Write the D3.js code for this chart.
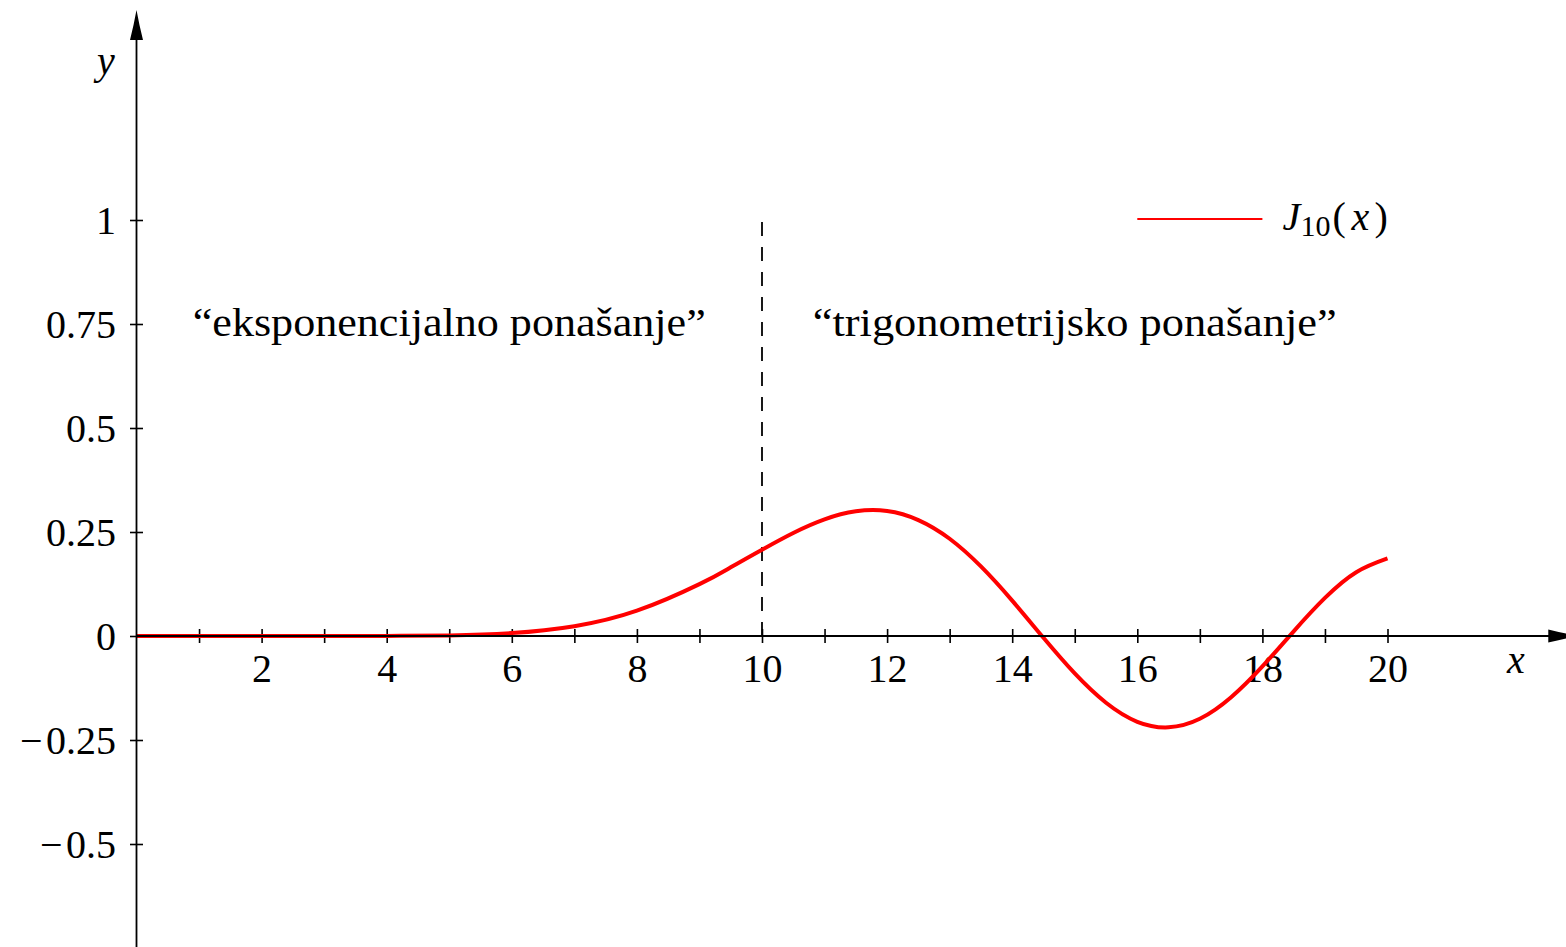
<!DOCTYPE html>
<html>
<head>
<meta charset="utf-8">
<script src="https://cdn.jsdelivr.net/npm/d3@7"></script>
<style>
  html, body { margin: 0; padding: 0; background: #fff; }
  svg { display: block; }
  text { font-family: "Liberation Serif", "Times New Roman", serif; fill: #000; }
</style>
</head>
<body>
<svg id="chart" width="1566" height="947"></svg>
<script>
// Bessel function of the first kind, order 10, sampled on [0, 20]
const xValues = [0, 1, 2, 3, 4, 5, 6, 7, 8, 9, 9.5, 10, 10.5, 11, 11.5, 12, 12.5, 13, 13.5, 14, 14.5,
                 15, 15.5, 16, 16.5, 17, 17.5, 18, 18.5, 19, 19.5, 20];
const besselJ10 = [0, 2.6e-10, 2.5e-7, 1.29e-5, 0.000195, 0.001468, 0.006964, 0.023539, 0.060767,
                   0.124686, 0.16509, 0.207486, 0.24773, 0.280377, 0.29967, 0.300476, 0.27873,
                   0.233782, 0.16717, 0.085006, -0.00441, -0.090072, -0.16056, -0.206203, -0.21952,
                   -0.199114, -0.14728, -0.073169, 0.01127, 0.091520, 0.15334, 0.186483];

// Axis ticks and labels
const xTickValues = [1, 2, 3, 4, 5, 6, 7, 8, 9, 10, 11, 12, 13, 14, 15, 16, 17, 18, 19, 20];
const xLabelValues = [2, 4, 6, 8, 10, 12, 14, 16, 18, 20];
const yTickValues = [-0.5, -0.25, 0, 0.25, 0.5, 0.75, 1];

// Region annotations and the boundary between them
const regionLabels = ["“eksponencijalno ponašanje”", "“trigonometrijsko ponašanje”"];
const regionCenters = [5, 15];
const regionLabelY = 0.75;
const boundaryX = 10;
const boundaryTop = 1;

// Legend
const legendName = "J";
const legendSub = "10";
const legendRange = [16, 18];
const legendY = 1;

// Axis extents (in data units)
const xAxisMax = 23.05;
const yAxisMin = -0.75;
const yAxisMax = 1.5048;

const svg = d3.select("#chart");

const x = d3.scaleLinear().domain([0, 20]).range([136.5, 1387.5]);
const y = d3.scaleLinear().domain([-0.5, 1]).range([844, 220]);

const FS = 40;

// x axis: ticks crossing the axis, labels on even values
const xAxisG = svg.append("g")
  .attr("transform", `translate(0,${y(0)})`)
  .call(d3.axisBottom(x)
    .tickValues(xTickValues)
    .tickSize(7)
    .tickFormat(d => xLabelValues.includes(d) ? String(d) : ""));
xAxisG.attr("font-family", null).attr("font-size", null);
xAxisG.select(".domain").remove();
xAxisG.selectAll(".tick line")
  .attr("y1", -7).attr("y2", 7)
  .attr("stroke", "#000").attr("stroke-width", 1.6);
xAxisG.selectAll(".tick text")
  .attr("y", 46).attr("dy", null)
  .attr("font-size", FS)
  .attr("fill", "#000");

// y axis
const yFmt = d => d < 0 ? "\u2212\u200A" + String(-d) : String(d);
const yAxisG = svg.append("g")
  .attr("transform", `translate(${x(0)},0)`)
  .call(d3.axisLeft(y)
    .tickValues(yTickValues)
    .tickSize(6.5)
    .tickFormat(yFmt));
yAxisG.attr("font-family", null).attr("font-size", null);
yAxisG.select(".domain").remove();
yAxisG.selectAll(".tick line")
  .attr("x1", -6.5).attr("x2", 6.5)
  .attr("stroke", "#000").attr("stroke-width", 1.6);
yAxisG.selectAll(".tick text")
  .attr("x", -20.5).attr("dy", null).attr("y", 13.5)
  .attr("font-size", FS)
  .attr("fill", "#000");

// Dashed boundary line at x = 10 (drawn bottom to top)
svg.append("line")
  .attr("x1", x(boundaryX)).attr("x2", x(boundaryX))
  .attr("y1", y(0)).attr("y2", y(boundaryTop))
  .attr("stroke", "#000")
  .attr("stroke-width", 1.8)
  .attr("stroke-dasharray", "14,11");

// Region labels
svg.selectAll("text.region")
  .data(regionLabels)
  .join("text")
  .attr("class", "region")
  .attr("x", (d, i) => x(regionCenters[i]))
  .attr("y", y(regionLabelY) + 12)
  .attr("text-anchor", "middle")
  .attr("font-size", FS)
  .attr("textLength", (d, i) => i === 0 ? 513 : 524)
  .attr("lengthAdjust", "spacingAndGlyphs")
  .text(d => d);

// The curve
const pts = xValues.map((v, i) => [v, besselJ10[i]]);
svg.append("path")
  .datum(pts)
  .attr("fill", "none")
  .attr("stroke", "#ff0000")
  .attr("stroke-width", 4)
  .attr("stroke-linejoin", "round")
  .attr("d", d3.line().x(d => x(d[0])).y(d => y(d[1])).curve(d3.curveNatural));

// Axis lines with arrow heads
const arrowPath = "M0,0 Q-14,-2.5 -30,-6.5 L-30,6.5 Q-14,2.5 0,0 Z";
svg.append("line")
  .attr("x1", x(0)).attr("x2", x(xAxisMax) - 28)
  .attr("y1", y(0)).attr("y2", y(0))
  .attr("stroke", "#000").attr("stroke-width", 1.8);
svg.append("path")
  .attr("d", arrowPath)
  .attr("fill", "#000")
  .attr("transform", `translate(${x(xAxisMax)},${y(0)})`);
svg.append("line")
  .attr("x1", x(0)).attr("x2", x(0))
  .attr("y1", y(yAxisMin)).attr("y2", y(yAxisMax) + 28)
  .attr("stroke", "#000").attr("stroke-width", 1.8);
svg.append("path")
  .attr("d", arrowPath)
  .attr("fill", "#000")
  .attr("transform", `translate(${x(0)},${y(yAxisMax)}) rotate(-90)`);

// Axis names
svg.append("text")
  .attr("x", 1516).attr("y", 673)
  .attr("text-anchor", "middle")
  .attr("font-size", FS)
  .attr("font-style", "italic")
  .text("x");
svg.append("text")
  .attr("x", 106).attr("y", 74)
  .attr("text-anchor", "middle")
  .attr("font-size", FS)
  .attr("font-style", "italic")
  .text("y");

// Legend
svg.append("line")
  .attr("x1", x(legendRange[0])).attr("x2", x(legendRange[1]))
  .attr("y1", y(legendY) - 1).attr("y2", y(legendY) - 1)
  .attr("stroke", "#ff0000").attr("stroke-width", 1.8);
const lx = x(legendRange[1]) + 20;
const ly = y(legendY) + 10;
const legendText = svg.append("text")
  .attr("x", lx).attr("y", ly)
  .attr("font-size", FS);
legendText.append("tspan").attr("font-style", "italic").text(legendName);
legendText.append("tspan").attr("x", lx + 18).attr("dy", 6).attr("font-size", 30).text(legendSub);
legendText.append("tspan").attr("x", lx + 50).attr("dy", -6).text("(");
legendText.append("tspan").attr("x", lx + 69).attr("font-style", "italic").text("x");
legendText.append("tspan").attr("x", lx + 92).text(")");
</script>
</body>
</html>
